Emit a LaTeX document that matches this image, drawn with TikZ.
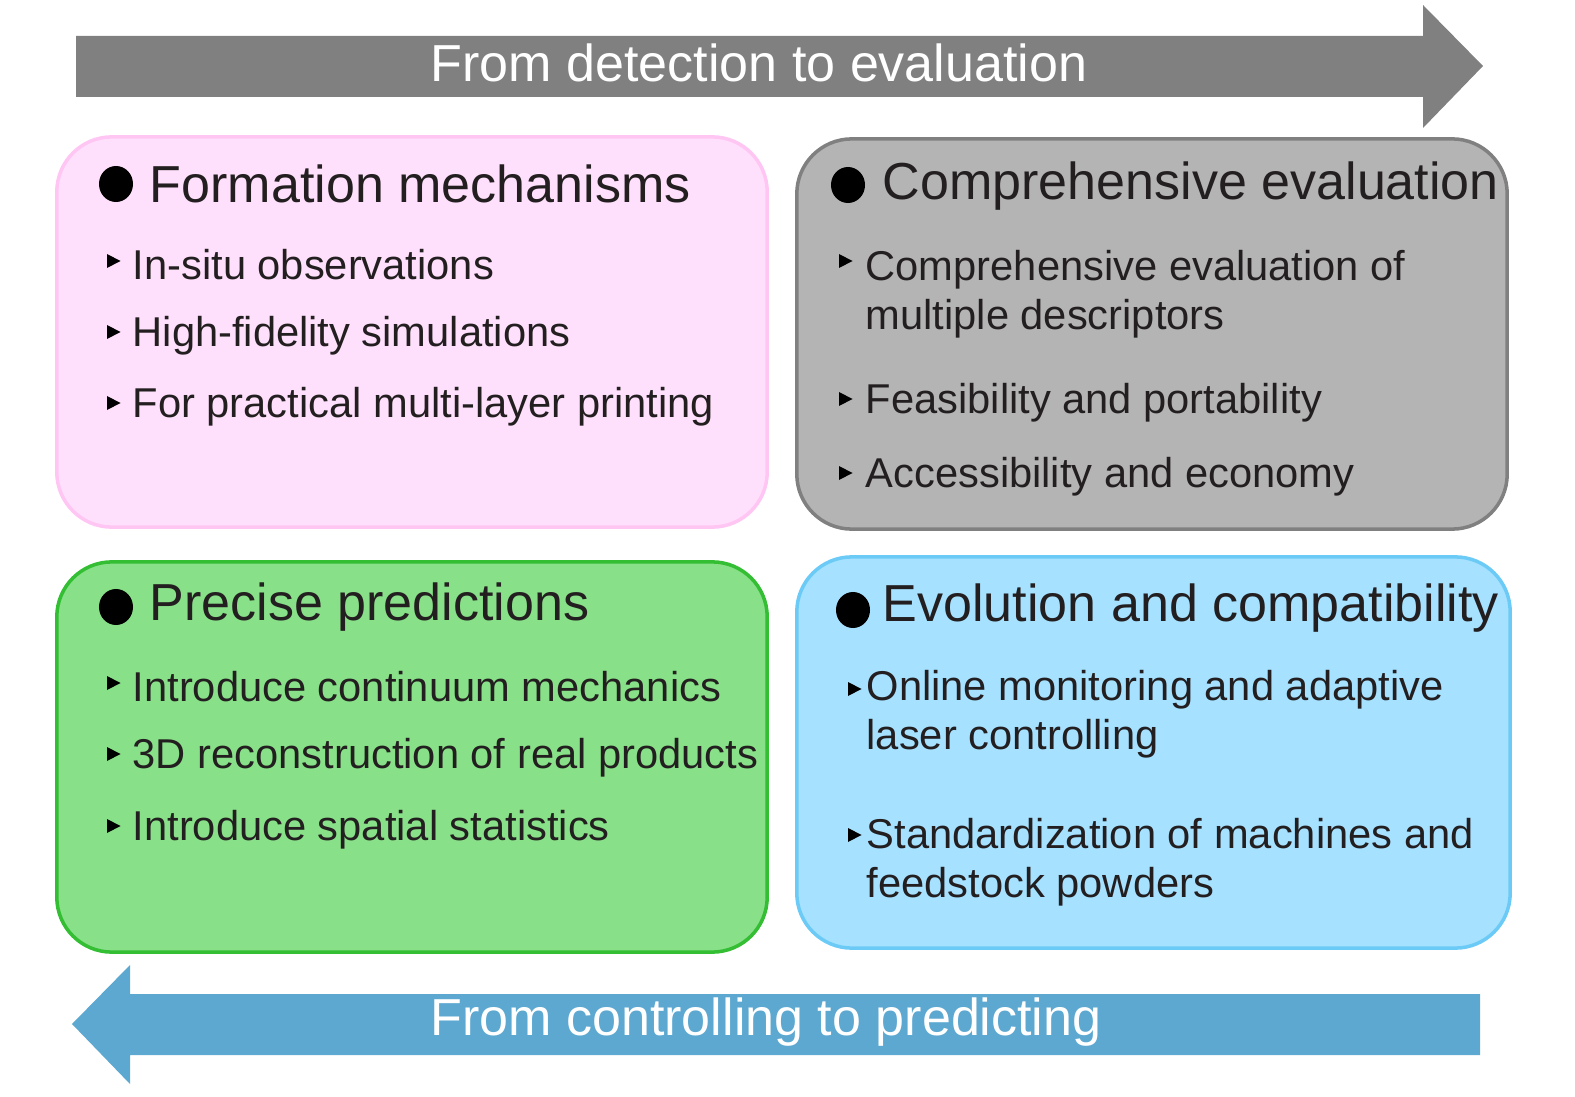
\documentclass[tikz,border=0pt]{standalone}
\usepackage{fontspec}
\setmainfont{Liberation Sans}
\usepackage{tikz}
\usetikzlibrary{positioning, shapes.geometric}

\definecolor{txt}{HTML}{231F20}
\definecolor{pinkfill}{HTML}{FFE0FC}
\definecolor{pinkline}{HTML}{FFC6F4}
\definecolor{grayfill}{HTML}{B4B4B4}
\definecolor{grayline}{HTML}{808080}
\definecolor{greenfill}{HTML}{88E088}
\definecolor{greenline}{HTML}{33BE33}
\definecolor{bluefill}{HTML}{A6E1FF}
\definecolor{blueline}{HTML}{6CCBF6}
\definecolor{toparrow}{HTML}{808080}
\definecolor{botarrow}{HTML}{5CA8D0}

\tikzset{
  box/.style={draw, line width=1pt, rounded corners=0.55cm, minimum width=7.1cm, minimum height=3.9cm},
  title/.style={anchor=west, inner sep=0pt, text=txt, font=\fontsize{14.8}{17}\selectfont},
  item/.style={anchor=west, inner sep=0pt, text=txt, align=left, font=\fontsize{11.85}{13.9}\selectfont},
  dot/.style={fill=black, ellipse, minimum width=0.34cm, minimum height=0.36cm, inner sep=0pt},
  banner/.style={text=white, inner sep=0pt, font=\fontsize{14.8}{17}\selectfont}
}
\newcommand{\itemtri}[1]{\fill (#1) ++(0,-7) -- ++(0,14) -- ++(13.5,-7) -- cycle;}

\begin{document}
\begin{tikzpicture}[x=0.01cm, y=-0.01cm]
	\useasboundingbox (0,0) rectangle (1575,1097);
	% arrows
	\fill[toparrow] (76,36) -- (1423,36) -- (1423,5) -- (1483,66) -- (1423,128) -- (1423,97) -- (76,97) -- cycle;
	\node[banner] (top) at (759,63) {From detection to evaluation};
	\fill[botarrow] (1480,994) -- (130,994) -- (130,965) -- (72,1024) -- (130,1084) -- (130,1055) -- (1480,1055) -- cycle;
	\node[banner] (bot) at (766,1022) {From controlling to predicting};
	% boxes
	\node[box, draw=pinkline, fill=pinkfill] (fm) at (412,332) {};
	\node[box, draw=grayline, fill=grayfill] (ce) at (1152,334) {};
	\node[box, draw=greenline, fill=greenfill] (pp) at (412,757) {};
	\node[box, draw=blueline, fill=bluefill, minimum width=7.13cm, minimum height=3.91cm] (ec) at (1153.5,752.5) {};
	% titles
	\node[dot] (fmdot) at (116,184) {};
	\node[title] (fmtitle) at (149,184) {Formation mechanisms};
	\node[dot] (cedot) at (848,185) {};
	\node[title] (cetitle) at (882,186) {Comprehensive evaluation};
	\node[dot] (ppdot) at (116,607) {};
	\node[title] (pptitle) at (149,607) {Precise predictions};
	\node[dot] (ecdot) at (853,610) {};
	\node[title] (ectitle) at (882,608) {Evolution and compatibility};
	% items
	\itemtri{107,261} \node[item] (fm1) at (132,265) {In-situ observations};
	\itemtri{107,332} \node[item] (fm2) at (132,336) {High-fidelity simulations};
	\itemtri{107,403} \node[item] (fm3) at (132,407) {For practical multi-layer printing};
	\itemtri{839,261} \node[item, anchor=north west] (ce1) at (865,250) {Comprehensive evaluation of\\multiple descriptors};
	\itemtri{839,399} \node[item] (ce2) at (865,403) {Feasibility and portability};
	\itemtri{839,473} \node[item] (ce3) at (865,477) {Accessibility and economy};
	\itemtri{107,683} \node[item] (pp1) at (132,687) {Introduce continuum mechanics};
	\itemtri{107,754} \node[item] (pp2) at (132,758) {3D reconstruction of real products};
	\itemtri{107,826} \node[item] (pp3) at (132,830) {Introduce spatial statistics};
	\itemtri{848,689} \node[item, anchor=north west] (ec1) at (866,670) {Online monitoring and adaptive\\laser controlling};
	\itemtri{848,835} \node[item, anchor=north west] (ec2) at (866,818) {Standardization of machines and\\feedstock powders};
\end{tikzpicture}
\end{document}
